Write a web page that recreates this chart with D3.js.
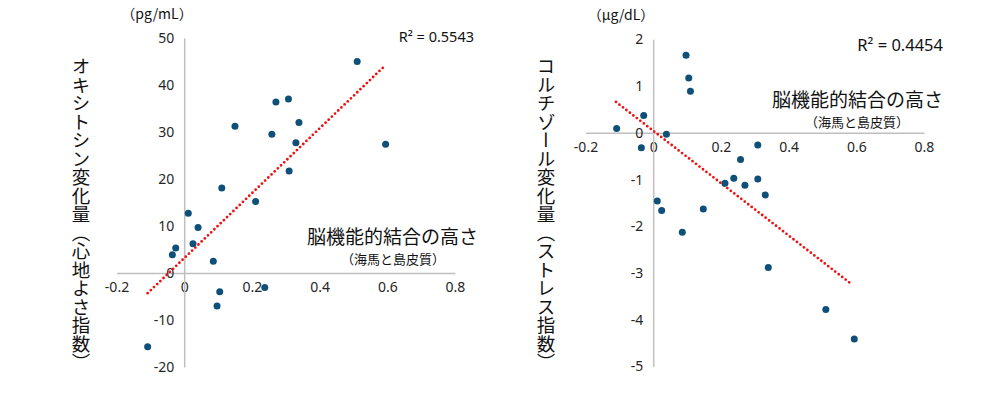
<!DOCTYPE html>
<html>
<head>
<meta charset="utf-8">
<title>脳機能的結合とホルモン変化</title>
<script src="https://d3js.org/d3.v7.min.js"></script>
<style>
  body { margin: 0; background: #fff; }
  svg { display: block; }
  .tick text { font-family: "Noto Sans", sans-serif; font-size: 14px; fill: #262626; }
  .jp { font-family: "Noto Sans CJK JP", sans-serif; fill: #111; }
</style>
</head>
<body>
<svg id="chart" width="1000" height="397"></svg>
<script>
// x axis ticks (shared)
var xTicks = [-0.2, 0, 0.2, 0.4, 0.6, 0.8];

// left: oxytocin change vs connectivity
var oxyX = [0.511, 0.595, 0.271, 0.308, 0.150, 0.339, 0.259, 0.330, 0.310, 0.111, 0.211,
            0.012, 0.041, -0.025, -0.035, 0.026, 0.086, 0.105, 0.097, 0.238, -0.108];
var oxyY = [45.0, 27.4, 36.4, 37.0, 31.2, 32.0, 29.5, 27.7, 21.7, 18.1, 15.2,
            12.7, 9.7, 5.3, 3.9, 6.2, 2.5, -4.0, -7.0, -3.1, -15.7];
var oxyTicks = [-20, -10, 0, 10, 20, 30, 40, 50];
var oxyTrendX = [-0.108, 0.593];
var oxyTrendY = [-4.3, 44.1];

// right: cortisol change vs connectivity
var corX = [0.097, 0.105, 0.110, -0.028, -0.108, 0.039, -0.035, 0.309, 0.258, 0.238, 0.212,
            0.271, 0.309, 0.331, 0.012, 0.025, 0.148, 0.086, 0.340, 0.510, 0.594];
var corY = [1.66, 1.17, 0.89, 0.37, 0.09, -0.03, -0.32, -0.26, -0.57, -0.97, -1.08,
            -1.12, -0.99, -1.33, -1.46, -1.66, -1.63, -2.13, -2.88, -3.78, -4.41];
var corTicks = [-5, -4, -3, -2, -1, 0, 1, 2];
var corTrendX = [-0.110, 0.588];
var corTrendY = [0.66, -3.25];

var svg = d3.select("#chart");

function drawPanel(opt){
    var x = d3.scaleLinear().domain([-0.2, 0.8]).range(opt.xRange);
    var y = d3.scaleLinear().domain(opt.yDomain).range(opt.yRange);
    var g = svg.append("g");

    //axes through the origin
    g.append("g").attr("transform", "translate(0," + y(0) + ")")
        .call(d3.axisBottom(x).tickValues(xTicks).tickSize(0).tickPadding(9)
            .tickFormat(function(d){ return d === 0 ? "0" : String(d); }));
    g.append("g").attr("transform", "translate(" + x(0) + ",0)")
        .call(d3.axisLeft(y).tickValues(opt.yTicks).tickSize(0).tickPadding(10)
            .tickFormat(function(d){ return String(d); }));
    g.selectAll(".domain").attr("stroke", "#bfbfbf").attr("stroke-width", 1.5);

    //dotted trend line
    g.append("line")
        .attr("x1", x(opt.trendX[0])).attr("y1", y(opt.trendY[0]))
        .attr("x2", x(opt.trendX[1])).attr("y2", y(opt.trendY[1]))
        .attr("stroke", "#ee1111").attr("stroke-width", 2.8)
        .attr("stroke-linecap", "round").attr("stroke-dasharray", "0 4.4");

    //points
    g.selectAll("circle.pt").data(opt.xs).enter().append("circle")
        .attr("class", "pt")
        .attr("cx", function(d){ return x(d); })
        .attr("cy", function(d, i){ return y(opt.ys[i]); })
        .attr("r", 3.5)
        .attr("fill", "#0f5079");

    //unit label
    g.append("text").attr("class", "jp")
        .attr("x", opt.unitX).attr("y", opt.unitY)
        .attr("text-anchor", "middle").attr("font-size", 14)
        .text(opt.unit);

    //R squared
    g.append("text")
        .attr("x", opt.r2X).attr("y", opt.r2Y)
        .attr("text-anchor", "end").attr("font-size", opt.r2Size)
        .attr("font-family", "Noto Sans, sans-serif").attr("fill", "#111")
        .text(opt.r2);

    //x title
    g.append("text").attr("class", "jp")
        .attr("x", opt.titleX).attr("y", opt.titleY)
        .attr("text-anchor", "end").attr("font-size", 19)
        .text("脳機能的結合の高さ");
    g.append("text").attr("class", "jp")
        .attr("x", opt.subX).attr("y", opt.titleY + 20)
        .attr("text-anchor", "middle").attr("font-size", 13)
        .text("（海馬と島皮質）");

    //vertical y title
    g.append("text").attr("class", "jp")
        .attr("x", opt.vX).attr("y", 57)
        .attr("font-size", 18.5)
        .style("writing-mode", "vertical-rl")
        .text(opt.vTitle);
}

drawPanel({
    xs: oxyX, ys: oxyY, yDomain: [-20, 50], yTicks: oxyTicks,
    xRange: [116.5, 455], yRange: [367, 38],
    trendX: oxyTrendX, trendY: oxyTrendY,
    unit: "（pg/mL）", unitX: 157, unitY: 19,
    r2: "R² = 0.5543", r2X: 474, r2Y: 42, r2Size: 14.5,
    titleX: 478, titleY: 244, subX: 393,
    vX: 81, vTitle: "オキシトシン変化量（心地よさ指数）"
});

drawPanel({
    xs: corX, ys: corY, yDomain: [-5, 2], yTicks: corTicks,
    xRange: [585.5, 924], yRange: [366.5, 39.3],
    trendX: corTrendX, trendY: corTrendY,
    unit: "（μg/dL）", unitX: 621, unitY: 20,
    r2: "R² = 0.4454", r2X: 943, r2Y: 51, r2Size: 16.5,
    titleX: 943, titleY: 106.5, subX: 857,
    vX: 546, vTitle: "コルチゾール変化量（ストレス指数）"
});
</script>
</body>
</html>
